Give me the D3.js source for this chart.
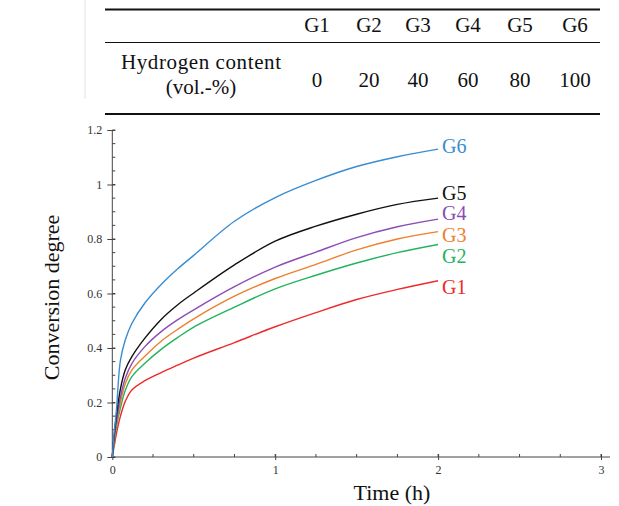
<!DOCTYPE html>
<html lang="en">
<head>
<meta charset="UTF-8">
<title>Conversion degree vs time</title>
<script src="https://d3js.org/d3.v7.min.js"></script>
<style>
  body { margin: 0; background: #fff; }
  svg text { font-family: "Liberation Serif", "DejaVu Serif", serif; }
</style>
</head>
<body>
<svg id="chart" width="619" height="506"></svg>
<script>
// table data
const groups = ["G1", "G2", "G3", "G4", "G5", "G6"];
const hydrogen = [0, 20, 40, 60, 80, 100];

// time grid (h) shared by all series
const times = [0, 0.01, 0.025, 0.05, 0.08, 0.12, 0.2, 0.3, 0.4, 0.5, 0.75, 1.0, 1.25, 1.5, 1.75, 2.0];

// conversion degree per group
const g1 = [0, 0.035, 0.085, 0.15, 0.205, 0.246, 0.28, 0.31, 0.337, 0.363, 0.42, 0.478, 0.53, 0.578, 0.615, 0.647];
const g2 = [0, 0.05, 0.11, 0.18, 0.245, 0.295, 0.344, 0.395, 0.438, 0.477, 0.55, 0.617, 0.667, 0.712, 0.75, 0.78];
const g3 = [0, 0.055, 0.12, 0.2, 0.27, 0.319, 0.37, 0.425, 0.468, 0.507, 0.59, 0.655, 0.707, 0.76, 0.8, 0.827];
const g4 = [0, 0.06, 0.13, 0.22, 0.29, 0.343, 0.405, 0.46, 0.503, 0.54, 0.625, 0.697, 0.752, 0.805, 0.845, 0.873];
const g5 = [0, 0.07, 0.15, 0.25, 0.32, 0.368, 0.436, 0.505, 0.558, 0.602, 0.705, 0.792, 0.847, 0.891, 0.927, 0.95];
const g6 = [0, 0.08, 0.17, 0.355, 0.43, 0.49, 0.565, 0.633, 0.69, 0.74, 0.865, 0.952, 1.015, 1.066, 1.102, 1.13];

const seriesValues = [g1, g2, g3, g4, g5, g6];
const colors = ["#ee2a2a", "#22b35e", "#ee7f2d", "#8a4cb5", "#111111", "#3a8dd0"];
const labelDy = [6, 12, 3, -6, -5, -3];

const xTicks = [0, 1, 2, 3];
const yTicks = [0, 0.2, 0.4, 0.6, 0.8, 1, 1.2];

const svg = d3.select("#chart");

// ---- table ----
const colX = [317, 369, 418, 468, 520, 575];
const tbl = svg.append("g");
tbl.append("line").attr("x1", 85).attr("x2", 85).attr("y1", 0).attr("y2", 99)
  .attr("stroke", "#e2e2e2").attr("stroke-width", 1);
[[9.5, 2], [42.5, 1.2], [114, 2]].forEach(([y, w]) => {
  tbl.append("line").attr("x1", 105).attr("x2", 600).attr("y1", y).attr("y2", y)
    .attr("stroke", "#111").attr("stroke-width", w);
});
groups.forEach((g, i) => {
  tbl.append("text").attr("x", colX[i]).attr("y", 32).attr("text-anchor", "middle")
    .attr("font-size", 21).attr("fill", "#111").text(g);
  tbl.append("text").attr("x", colX[i]).attr("y", 87).attr("text-anchor", "middle")
    .attr("font-size", 21).attr("fill", "#111").text(hydrogen[i]);
});
tbl.append("text").attr("x", 201).attr("y", 69).attr("text-anchor", "middle")
  .attr("font-size", 21).attr("textLength", 160).attr("lengthAdjust", "spacing")
  .attr("fill", "#111").text("Hydrogen content");
tbl.append("text").attr("x", 201).attr("y", 94).attr("text-anchor", "middle")
  .attr("font-size", 21).attr("fill", "#111").text("(vol.-%)");

// ---- plot ----
const x = d3.scaleLinear().domain([0, 3]).range([112.3, 601]);
const y = d3.scaleLinear().domain([0, 1.2]).range([457, 130]);
const axisColor = "#444";

const plot = svg.append("g");

// y axis
const yAxis = plot.append("g").attr("transform", `translate(${x(0)},0)`)
  .call(d3.axisLeft(y).tickValues(yTicks).tickSize(5).tickPadding(5)
    .tickFormat(d => d3.format("")(+d.toFixed(1))));
yAxis.select(".domain").attr("stroke", axisColor).attr("d", `M0,${y(0)}V${y(1.2)}`);
yAxis.selectAll(".tick line").attr("stroke", axisColor).attr("x2", -5).attr("x1", 3);
yAxis.selectAll(".tick text").attr("font-size", 12).attr("fill", "#333");
yAxis.selectAll(".minor").data(d3.range(0, 1.2001, 0.05)).enter().append("line")
  .attr("x1", 0).attr("x2", 3).attr("y1", d => y(d)).attr("y2", d => y(d))
  .attr("stroke", axisColor);

// x axis
const xAxis = plot.append("g").attr("transform", `translate(0,${y(0)})`)
  .call(d3.axisBottom(x).tickValues(xTicks).tickSize(3).tickPadding(5).tickFormat(d3.format("d")));
xAxis.select(".domain").attr("stroke", axisColor).attr("d", `M${x(0)},0H610`);
xAxis.selectAll(".tick line").attr("stroke", axisColor).attr("y1", -3);
xAxis.selectAll(".tick text").attr("font-size", 12).attr("fill", "#333");
xAxis.selectAll(".minor").data(d3.range(0, 3.001, 0.25)).enter().append("line")
  .attr("x1", d => x(d)).attr("x2", d => x(d)).attr("y1", -3).attr("y2", 0)
  .attr("stroke", axisColor);

// axis titles
plot.append("text").attr("transform", `translate(59,${(y(0) + y(1.2)) / 2 + 4}) rotate(-90)`)
  .attr("text-anchor", "middle").attr("font-size", 22).attr("fill", "#111").text("Conversion degree");
plot.append("text").attr("x", 392).attr("y", 500).attr("text-anchor", "middle")
  .attr("font-size", 22).attr("fill", "#111").text("Time (h)");

// curves
const line = d3.line().x(d => x(d[0])).y(d => y(d[1])).curve(d3.curveCatmullRom.alpha(0.5));
seriesValues.forEach((vals, i) => {
  const pts = times.map((t, j) => [t, vals[j]]);
  plot.append("path").datum(pts).attr("d", line).attr("fill", "none")
    .attr("stroke", colors[i]).attr("stroke-width", 1.4);
  const last = pts[pts.length - 1];
  plot.append("text").attr("x", x(last[0]) + 4).attr("y", y(last[1]) + labelDy[i])
    .attr("dy", "0.35em").attr("font-size", 20).attr("fill", colors[i]).text(groups[i]);
});
</script>
</body>
</html>
